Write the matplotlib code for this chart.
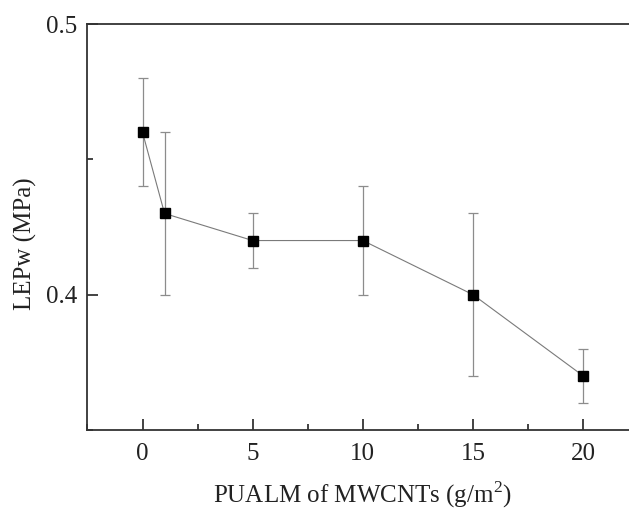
import matplotlib
matplotlib.use("Agg")
import matplotlib.pyplot as plt
from matplotlib.ticker import FixedLocator

plt.rcParams['font.family'] = ['Liberation Serif', 'DejaVu Serif']
plt.rcParams['mathtext.fontset'] = 'custom'
plt.rcParams['mathtext.rm'] = 'Liberation Serif'

x_vals = [0, 1, 5, 10, 15, 20]
y_vals = [0.46, 0.43, 0.42, 0.42, 0.40, 0.37]
y_err = [0.02, 0.03, 0.01, 0.02, 0.03, 0.01]
x_ticks = [0, 5, 10, 15, 20]
x_minor = [-2.5, 2.5, 7.5, 12.5, 17.5]
y_ticks = [0.4, 0.5]
y_ticklabels = ["0.4", "0.5"]
y_minor = [0.35, 0.45]

fig = plt.figure(figsize=(6.29, 5.11), dpi=100)
ax = fig.add_axes([0.139, 0.1585, 0.8757, 0.7945])

ax.errorbar(x_vals, y_vals, yerr=y_err, fmt='none', ecolor='#8c8c8c',
            elinewidth=0.9, capsize=3.5, capthick=0.9, zorder=2)
ax.plot(x_vals, y_vals, color='#7a7a7a', linewidth=0.8, zorder=3)
ax.plot(x_vals, y_vals, linestyle='none', marker='s', markersize=7,
        color='black', zorder=4)

ax.set_xlim(-2.5, 22.5)
ax.set_ylim(0.35, 0.5)

ax.xaxis.set_major_locator(FixedLocator(x_ticks))
ax.xaxis.set_minor_locator(FixedLocator(x_minor))
ax.yaxis.set_major_locator(FixedLocator(y_ticks))
ax.set_yticklabels(y_ticklabels)
ax.yaxis.set_minor_locator(FixedLocator(y_minor))

ax.tick_params(which='both', direction='in', colors='#222222', labelcolor='#222222',
               top=False, right=False, labelsize=18, width=1.2)
ax.tick_params(which='major', length=8)
ax.tick_params(axis='x', which='major', pad=9)
ax.tick_params(axis='y', which='major', pad=7.5)
ax.tick_params(which='minor', length=4)

for s in ['left', 'bottom', 'top']:
    ax.spines[s].set_linewidth(1.3)
    ax.spines[s].set_color('#333333')
ax.spines['right'].set_visible(False)

ax.set_xlabel('PUALM of MWCNTs (g/m$^2$)', fontsize=18, color='#222222')
ax.set_ylabel('LEPw (MPa)', fontsize=18, color='#222222')
ax.xaxis.label.set_verticalalignment('baseline')
ax.xaxis.set_label_coords(0.5, -0.179)
ax.yaxis.set_label_coords(-0.092, 0.46)

fig.savefig('out.png', dpi=100)
